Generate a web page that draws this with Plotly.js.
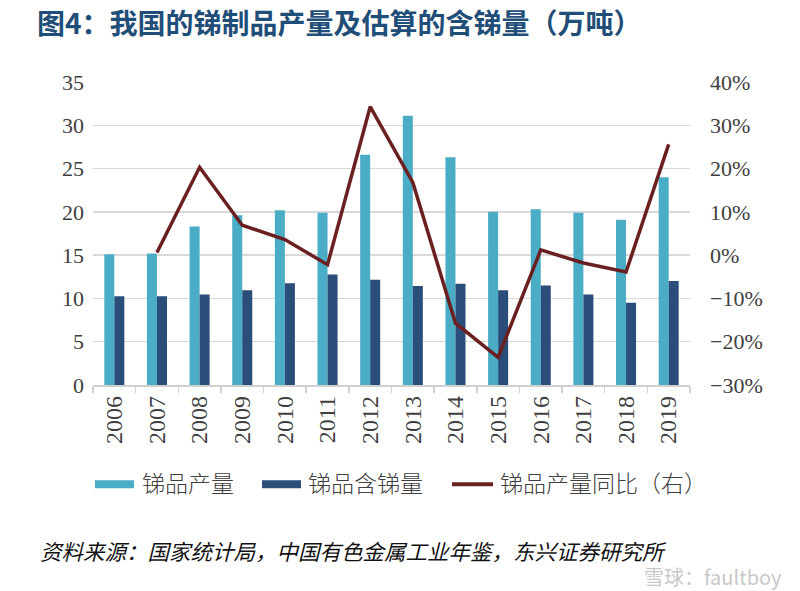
<!DOCTYPE html>
<html>
<head>
<meta charset="utf-8">
<script src="https://cdn.plot.ly/plotly-3.0.1.min.js"></script>
<style>html,body{margin:0;padding:0;background:#fff;}#chart{width:800px;height:591px;}</style>
</head>
<body>
<div id="chart"></div>
<script>
const years = ['2006','2007','2008','2009','2010','2011','2012','2013','2014','2015','2016','2017','2018','2019'];
const output = [15.1, 15.2, 18.3, 19.6, 20.2, 19.9, 26.6, 31.1, 26.3, 20.0, 20.3, 19.9, 19.1, 24.0];
const antimonyContent = [10.25, 10.25, 10.45, 10.95, 11.75, 12.75, 12.15, 11.45, 11.7, 10.95, 11.5, 10.45, 9.5, 12.0];
const yoyYears = ['2007','2008','2009','2010','2011','2012','2013','2014','2015','2016','2017','2018','2019'];
const yoy = [0.006, 0.203, 0.069, 0.036, -0.022, 0.343, 0.168, -0.157, -0.236, 0.012, -0.018, -0.039, 0.256];
const seriesNames = ['锑品产量', '锑品含锑量', '锑品产量同比（右）'];
const colors = ['#4BACC6', '#2A4D7A', '#6A2020'];

const serif = '"Liberation Serif", "DejaVu Serif", serif';
const cjk = '"Noto Sans CJK SC", sans-serif';

const traces = [
  {type:'bar', x:years, y:output, name:seriesNames[0], marker:{color:colors[0]}},
  {type:'bar', x:years, y:antimonyContent, name:seriesNames[1], marker:{color:colors[1]}},
  {type:'scatter', mode:'lines', x:yoyYears, y:yoy, yaxis:'y2', name:seriesNames[2],
   line:{color:colors[2], width:3.5}}
];

const L = 93, R = 690, T = 82, B = 385.5;
const pw = R - L, ph = B - T;
const px = v => (v - L) / pw;
const py = v => (B - v) / ph;

// custom legend (wide swatches like the original)
const legItems = [
  {kind:'box', x0:95, x1:134, tx:140},
  {kind:'box', x0:262, x1:301, tx:306},
  {kind:'line', x0:452, x1:493, tx:498}
];
const legY = 485;
const shapes = [];
const annotations = [];
legItems.forEach((it, i) => {
  if (it.kind === 'box') {
    shapes.push({type:'rect', xref:'paper', yref:'paper', x0:px(it.x0), x1:px(it.x1),
      y0:py(legY-4), y1:py(legY+4), fillcolor:colors[i], line:{width:0}});
  } else {
    shapes.push({type:'line', xref:'paper', yref:'paper', x0:px(it.x0), x1:px(it.x1),
      y0:py(legY), y1:py(legY), line:{color:colors[i], width:4}});
  }
  annotations.push({text:seriesNames[i], xref:'paper', yref:'paper', x:px(it.tx), xanchor:'left',
    y:py(legY-2), yanchor:'middle', showarrow:false,
    font:{family:cjk, size:23, color:'#404040', weight:300}});
});
annotations.push(
  {text:'<i>资料来源：国家统计局，中国有色金属工业年鉴，东兴证券研究所</i>', xref:'paper', yref:'paper',
   x:px(38), xanchor:'left', y:py(551), yanchor:'middle', showarrow:false,
   font:{family:cjk, size:21.5, color:'#111'}},
  {text:'雪球：faultboy', xref:'paper', yref:'paper', x:px(784), xanchor:'right',
   y:py(577), yanchor:'middle', showarrow:false, font:{family:cjk, size:20, color:'#C8C8C8'}}
);

const layout = {
  width:800, height:591,
  margin:{l:L, r:800-R, t:T, b:591-B},
  paper_bgcolor:'#fff', plot_bgcolor:'#fff',
  barmode:'group', bargap:0.53, bargroupgap:0,
  showlegend:false,
  title:{text:'图4：我国的锑制品产量及估算的含锑量（万吨）', xref:'container', yref:'container',
    x:37/800, xanchor:'left', y:1-24/591, yanchor:'middle',
    font:{family:cjk, size:28, color:'#1F4E79', weight:'bold'}},
  xaxis:{type:'category', tickangle:-90, tickson:'boundaries', ticks:'outside', ticklen:6,
    tickcolor:'#D0D0D0', tickwidth:1.5, showline:true, linecolor:'#D0D0D0', linewidth:1.5,
    showgrid:false, tickfont:{family:serif, size:24, color:'#404040'}},
  yaxis:{range:[0,35], dtick:5, showgrid:true, gridcolor:'#D9D9D9', gridwidth:1.5,
    zeroline:false, showline:false, ticks:'', ticklabelstandoff:8,
    tickfont:{family:serif, size:22, color:'#404040'}},
  yaxis2:{overlaying:'y', side:'right', range:[-0.3,0.4], dtick:0.1, tickformat:'.0%',
    showgrid:false, zeroline:false, showline:false, ticks:'', ticklabelstandoff:19,
    tickfont:{family:serif, size:22, color:'#404040'}},
  shapes:shapes,
  annotations:annotations
};

Plotly.newPlot('chart', traces, layout, {displayModeBar:false, staticPlot:true});
</script>
</body>
</html>
